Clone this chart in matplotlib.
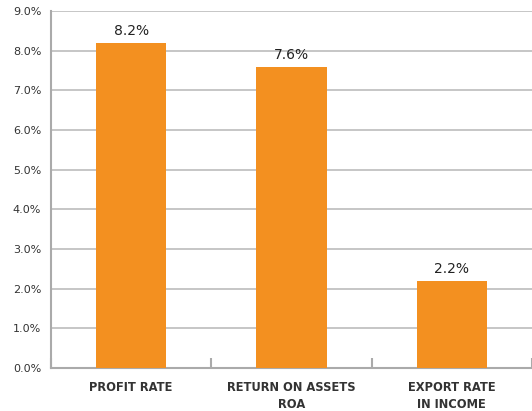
import matplotlib
matplotlib.use("Agg")
import matplotlib.pyplot as plt
from matplotlib.ticker import FixedLocator, PercentFormatter

categories = ["PROFIT RATE", "RETURN ON ASSETS\nROA", "EXPORT RATE\nIN INCOME"]
values = [8.2, 7.6, 2.2]
value_labels = ["8.2%", "7.6%", "2.2%"]
yticks = [0, 1, 2, 3, 4, 5, 6, 7, 8, 9]

fig = plt.figure(figsize=(5.32, 4.11), dpi=100)
ax = fig.add_axes([51/532, 1-368/411, 1-51/532, (368-11)/411])

x = list(range(len(categories)))
bars = ax.bar(x, values, width=0.44, color="#F39020", zorder=3)
for xi, v, lab in zip(x, values, value_labels):
    ax.text(xi, v + 0.12, lab, ha="center", va="bottom", fontsize=10, color="#222222")

ax.set_xlim(-0.5, len(categories) - 0.5)
ax.set_ylim(0, 9)
ax.set_yticks(yticks)
ax.yaxis.set_major_formatter(PercentFormatter(decimals=1))
ax.tick_params(axis="y", length=0, labelsize=8, pad=7, labelcolor="#333333")
ax.yaxis.grid(True, color="#bcbcbc", linewidth=1.2, zorder=0)

ax.set_xticks(x)
ax.set_xticklabels(categories, fontweight="bold", fontsize=8.3, color="#333333",
                   linespacing=1.4)
ax.tick_params(axis="x", which="major", length=0, pad=9)
ax.xaxis.set_minor_locator(FixedLocator([-0.5, 0.5, 1.5, 2.5]))
ax.tick_params(axis="x", which="minor", direction="in", length=7, width=1.5, color="#aaaaaa")

for s in ["top", "right"]:
    ax.spines[s].set_visible(False)
ax.spines["left"].set_color("#aaaaaa")
ax.spines["left"].set_linewidth(1.5)
ax.spines["bottom"].set_color("#aaaaaa")
ax.spines["bottom"].set_linewidth(1.5)

fig.savefig("out.png", dpi=100)
